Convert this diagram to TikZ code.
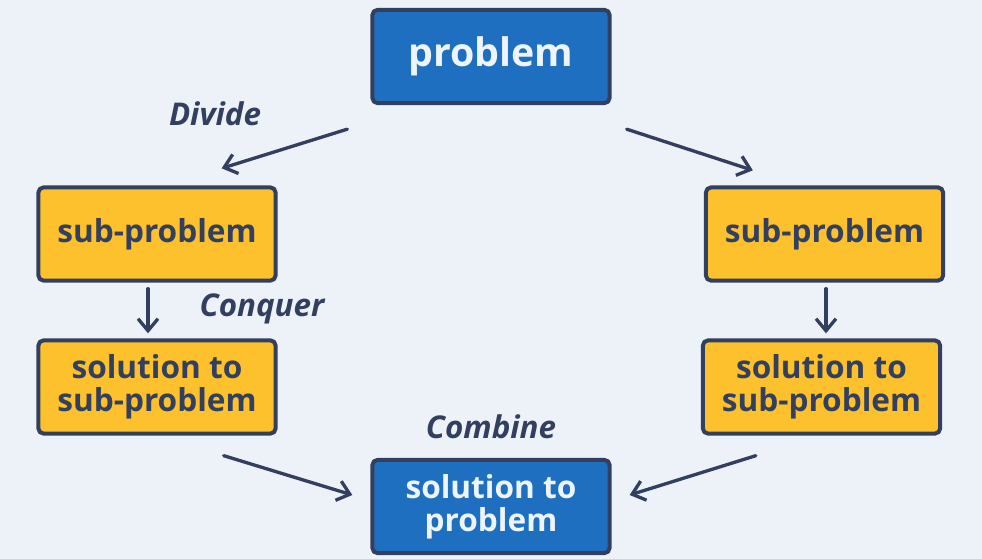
\documentclass[tikz,border=0pt]{standalone}
\usepackage{fontspec}
\setmainfont{Open Sans}
\usetikzlibrary{arrows.meta,positioning,calc}
\definecolor{bgcol}{HTML}{EDF2F8}
\definecolor{navy}{HTML}{323F5E}
\definecolor{boxblue}{HTML}{1E6FBF}
\definecolor{boxyellow}{HTML}{FCC12C}
\definecolor{paletext}{HTML}{EEF4FB}
\tikzset{
	dc diagram/.style={
		x=0.75pt, y=-0.75pt,
		line join=round,
		ar/.style={draw=navy, line width=2.5pt, line cap=round,
			-{Straight Barb[length=9pt,width=15pt,line width=2.5pt]}},
		step label/.style={text=navy, font=\fontsize{23.5}{26}\selectfont\bfseries\itshape}
		},
	dc box/.style={draw=navy, line width=3pt, rounded corners=4pt,
		minimum width=178pt, minimum height=70pt, align=center, inner sep=0pt,
		font=\fontsize{23.7}{25}\selectfont\bfseries},
	blue box/.style={dc box, fill=boxblue, text=paletext},
	yellow box/.style={dc box, fill=boxyellow, text=navy}
}
\begin{document}
\begin{tikzpicture}[dc diagram]
   \fill[bgcol] (0,0) rectangle (982,559);
   \useasboundingbox (0,0) rectangle (982,559);

   % boxes
   \node[blue box, font=\fontsize{29.5}{30}\selectfont\bfseries] (prob) at (491,56.5) {problem};
   \node[yellow box] (lsub) at (157,234) {sub-problem};
   \node[yellow box] (rsub) at (824.5,234) {sub-problem};
   \node[yellow box] (lsol) at (157,387) {solution to\\sub-problem};
   \node[yellow box] (rsol) at (821.5,387) {solution to\\sub-problem};
   \node[blue box] (sol) at (491,506.5) {solution to\\problem};

   % divide
   \draw[ar] ([shift={(-23,24)}]prob.south west) -- ([shift={(-56,-17)}]lsub.north east);
   \draw[ar] ([shift={(15,24)}]prob.south east) -- ([shift={(49,-15)}]rsub.north west);
   % conquer
   \draw[ar] ([shift={(-9,6)}]lsub.south) -- ([shift={(-9,-5)}]lsol.north);
   \draw[ar] ([shift={(1.5,6)}]rsub.south) -- ([shift={(4.5,-5)}]rsol.north);
   % combine
   \draw[ar] ([shift={(-54,20)}]lsol.south east) -- ([shift={(-18,-11.5)}]sol.west);
   \draw[ar] ([shift={(55,20)}]rsol.south west) -- ([shift={(18,-11.5)}]sol.east);

   \node[step label] (divide) at (215,114) {Divide};
   \node[step label] (conquer) at (262,309) {Conquer};
   \node[step label] (combine) at (491,427) {Combine};
\end{tikzpicture}
\end{document}
